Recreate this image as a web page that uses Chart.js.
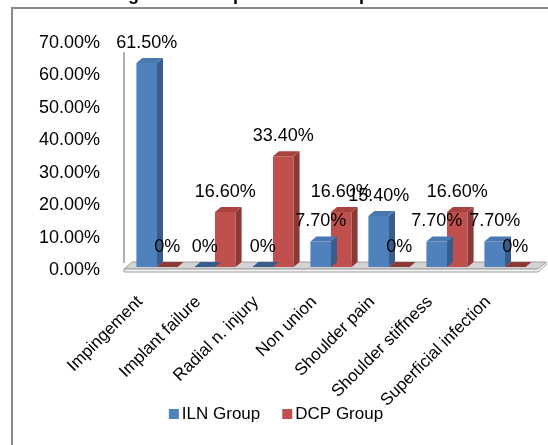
<!DOCTYPE html>
<html>
<head>
<meta charset="utf-8">
<script src="https://cdn.jsdelivr.net/npm/chart.js@4/dist/chart.umd.min.js"></script>
<style>
  html, body { margin: 0; padding: 0; background: #fff; overflow: hidden; }
  canvas { display: block; }
</style>
</head>
<body>
<canvas id="complicationsChart" width="548" height="445"></canvas>
<script>
const categories = [
  "Impingement",
  "Implant failure",
  "Radial n. injury",
  "Non union",
  "Shoulder pain",
  "Shoulder stiffness",
  "Superficial infection",
];
const seriesNames = ["ILN Group", "DCP Group"];
const ilnValues = [61.5, 0, 0, 7.7, 15.4, 7.7, 7.7];
const dcpValues = [0, 16.6, 33.4, 16.6, 0, 16.6, 0];
const yTickMax = 70;
const yTickStep = 10;

const FONT = "'Liberation Sans', Arial, sans-serif";
const faces = [
  { front: "#4f81bd", top: "#4a79b2", side: "#385d8a" },
  { front: "#c0504d", top: "#aa4340", side: "#8c3836" },
];
const DEPTH_X = 6;
const DEPTH_Y = 5;

function pct(v) {
  return v === 0 ? "0%" : v.toFixed(2) + "%";
}

// frame, cut-off heading, floor and back wall edge
const backdrop = {
  id: "backdrop",
  beforeDatasetsDraw(chart) {
    const { ctx, chartArea } = chart;
    const base = chart.scales.yBar.getPixelForValue(0);
    const L = chartArea.left, R = chartArea.right;
    ctx.save();
    ctx.strokeStyle = "#888";
    ctx.lineWidth = 2;
    ctx.strokeRect(12, 8, 620, 520);

    ctx.font = "bold 18px " + FONT;
    ctx.fillStyle = "#000";
    ctx.textBaseline = "alphabetic";
    const heading = "Figure 4: Complications compared";
    ctx.fillText(heading, 128 - ctx.measureText("Fi").width, 0);

    // back wall left edge
    ctx.strokeStyle = "#b0b0b0";
    ctx.lineWidth = 2;
    ctx.beginPath();
    ctx.moveTo(L - 4, chartArea.top + 9);
    ctx.lineTo(L - 4, base - 4);
    ctx.stroke();

    // floor slab
    ctx.lineWidth = 1;
    ctx.fillStyle = "#d4d4d4";
    ctx.strokeStyle = "#a0a0a0";
    ctx.beginPath();
    ctx.moveTo(L - 4, base + 2);
    ctx.lineTo(L + 4, base - 5);
    ctx.lineTo(R + 12, base - 5);
    ctx.lineTo(R + 4, base + 2);
    ctx.closePath();
    ctx.fill();
    ctx.stroke();
    ctx.fillStyle = "#f2f2f2";
    ctx.beginPath();
    ctx.moveTo(L - 4, base + 2);
    ctx.lineTo(R + 4, base + 2);
    ctx.lineTo(R + 12, base - 5);
    ctx.lineTo(R + 12, base - 2);
    ctx.lineTo(R + 4, base + 5);
    ctx.lineTo(L - 4, base + 5);
    ctx.closePath();
    ctx.fill();
    ctx.stroke();
    ctx.restore();
  },
};

// side and top faces plus value labels for every bar
const bars3d = {
  id: "bars3d",
  afterDatasetsDraw(chart) {
    const { ctx } = chart;
    ctx.save();
    chart.data.datasets.forEach((ds, di) => {
      const meta = chart.getDatasetMeta(di);
      const c = faces[di];
      meta.data.forEach((bar, i) => {
        const { x, y, base, width } = bar.getProps(["x", "y", "base", "width"], true);
        const l = x - width / 2, r = x + width / 2;
        ctx.fillStyle = c.side;
        ctx.beginPath();
        ctx.moveTo(r, y);
        ctx.lineTo(r + DEPTH_X, y - DEPTH_Y);
        ctx.lineTo(r + DEPTH_X, base - DEPTH_Y);
        ctx.lineTo(r, base);
        ctx.closePath();
        ctx.fill();
        ctx.fillStyle = ds.data[i] === 0 ? c.side : c.top;
        ctx.beginPath();
        ctx.moveTo(l, y);
        ctx.lineTo(l + DEPTH_X, y - DEPTH_Y);
        ctx.lineTo(r + DEPTH_X, y - DEPTH_Y);
        ctx.lineTo(r, y);
        ctx.closePath();
        ctx.fill();
      });
    });
    ctx.font = "18px " + FONT;
    ctx.fillStyle = "#000";
    ctx.textAlign = "center";
    ctx.textBaseline = "middle";
    chart.data.datasets.forEach((ds, di) => {
      chart.getDatasetMeta(di).data.forEach((bar, i) => {
        ctx.fillText(pct(ds.data[i]), bar.x, bar.y - 20);
      });
    });
    ctx.restore();
  },
};

const bottomLegend = {
  id: "bottomLegend",
  afterDraw(chart) {
    const { ctx } = chart;
    ctx.save();
    ctx.font = "17px " + FONT;
    ctx.textBaseline = "middle";
    const box = 10, gap = 3, spacing = 22;
    const widths = chart.data.datasets.map((d) => box + gap + ctx.measureText(d.label).width);
    const total = widths.reduce((a, b) => a + b, 0) + spacing;
    let x = chart.width / 2 + 2 - total / 2;
    const yc = 414;
    chart.data.datasets.forEach((d, i) => {
      ctx.fillStyle = d.backgroundColor;
      ctx.fillRect(x, yc - box / 2, box, box);
      ctx.fillStyle = "#000";
      ctx.fillText(d.label, x + box + gap, yc);
      x += widths[i] + spacing;
    });
    ctx.restore();
  },
};

new Chart(document.getElementById("complicationsChart"), {
  type: "bar",
  data: {
    labels: categories,
    datasets: [
      { label: seriesNames[0], data: ilnValues, backgroundColor: faces[0].front, yAxisID: "yBar" },
      { label: seriesNames[1], data: dcpValues, backgroundColor: faces[1].front, yAxisID: "yBar" },
    ],
  },
  options: {
    responsive: false,
    animation: false,
    devicePixelRatio: 1,
    categoryPercentage: 0.71,
    barPercentage: 1,
    layout: { padding: { top: 43, right: 14, left: 0, bottom: 0 } },
    plugins: { legend: { display: false }, tooltip: { enabled: false } },
    scales: {
      x: {
        grid: { display: false, drawTicks: false },
        border: { display: false },
        ticks: {
          autoSkip: false,
          maxRotation: 45,
          minRotation: 45,
          padding: 22,
          labelOffset: -17,
          color: "#000",
          font: { family: FONT, size: 17 },
        },
        afterFit(scale) { scale.height = 175; },
      },
      y: {
        min: 0,
        max: yTickMax,
        grid: { display: false, drawTicks: false },
        border: { display: false },
        ticks: {
          stepSize: yTickStep,
          padding: 28,
          color: "#000",
          font: { family: FONT, size: 18 },
          callback: (v) => v.toFixed(2) + "%",
        },
        afterFit(scale) { scale.width = 128; },
      },
      // bars sit on a slightly steeper scale than the wall labels
      yBar: { type: "linear", display: false, min: -0.9, max: 67.5 },
    },
  },
  plugins: [backdrop, bars3d, bottomLegend],
});
</script>
</body>
</html>
